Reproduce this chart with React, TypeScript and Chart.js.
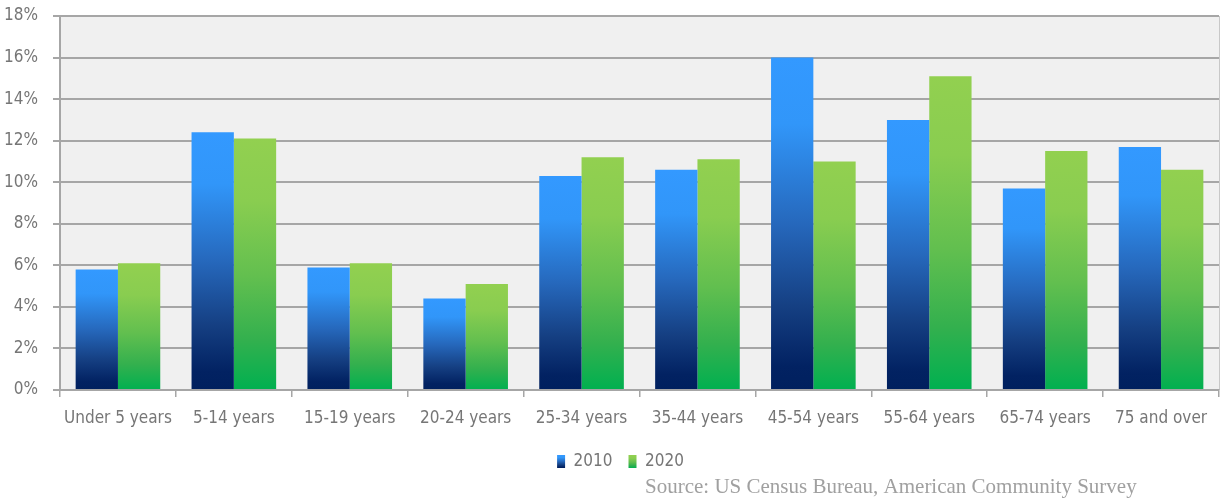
import React, { useEffect, useRef } from "react";
import { Chart, registerables } from "chart.js";

Chart.register(...registerables);

const categories = [
  "Under 5 years",
  "5-14 years",
  "15-19 years",
  "20-24 years",
  "25-34 years",
  "35-44 years",
  "45-54 years",
  "55-64 years",
  "65-74 years",
  "75 and over",
];
const values2010 = [5.8, 12.4, 5.9, 4.4, 10.3, 10.6, 16.0, 13.0, 9.7, 11.7];
const values2020 = [6.1, 12.1, 6.1, 5.1, 11.2, 11.1, 11.0, 15.1, 11.5, 10.6];
const seriesLabels = ["2010", "2020"];
const yTicks = [0, 2, 4, 6, 8, 10, 12, 14, 16, 18];
const sourceText = "Source: US Census Bureau, American Community Survey";

const FONT = "'DejaVu Sans Condensed', 'Liberation Sans Narrow', sans-serif";
const TEXT = "#767676";

const blueStops: [number, string][] = [
  [0, "#3399FF"],
  [0.2, "#3196F9"],
  [0.5, "#2668BC"],
  [0.75, "#153F82"],
  [0.93, "#022262"],
  [1, "#00205E"],
];
const greenStops: [number, string][] = [
  [0, "#92D050"],
  [0.25, "#89CD50"],
  [0.55, "#62BF4F"],
  [0.8, "#33B04E"],
  [1, "#00B050"],
];

function makeGrad(ctx: CanvasRenderingContext2D, top: number, bottom: number, stops: [number, string][]) {
  const g = ctx.createLinearGradient(0, top, 0, bottom);
  for (const [o, c] of stops) g.addColorStop(o, c);
  return g;
}

function barColor(stops: [number, string][]) {
  return (c: any) => {
    const chart = c.chart;
    const y = chart.scales && chart.scales.y;
    if (!y || c.raw === undefined || c.raw === null) return stops[0][1];
    const top = y.getPixelForValue(c.raw);
    const bottom = y.getPixelForValue(0);
    if (!isFinite(top) || !isFinite(bottom) || bottom - top < 1) return stops[0][1];
    return makeGrad(chart.ctx, top, bottom, stops);
  };
}

const bgPlugin = {
  id: "plotBg",
  afterLayout(chart: any) {
    const lg = chart.legend;
    if (lg) {
      lg.left += 11;
      lg.right += 11;
    }
  },
  beforeDraw(chart: any) {
    const { ctx, chartArea } = chart;
    if (!chartArea) return;
    ctx.save();
    ctx.fillStyle = "#F0F0F0";
    ctx.fillRect(chartArea.left, chartArea.top, chartArea.right - chartArea.left, chartArea.bottom - chartArea.top);
    ctx.strokeStyle = "#C8C8C8";
    ctx.lineWidth = 1;
    ctx.beginPath();
    ctx.moveTo(chartArea.right + 0.5, chartArea.top);
    ctx.lineTo(chartArea.right + 0.5, chartArea.bottom);
    ctx.stroke();
    ctx.restore();
  },
  afterDraw(chart: any) {
    const { ctx } = chart;
    ctx.save();
    ctx.fillStyle = "#A0A0A0";
    ctx.font = "21px 'Liberation Serif', 'DejaVu Serif', serif";
    ctx.textAlign = "left";
    ctx.textBaseline = "middle";
    ctx.fillText(sourceText, 645, 487);
    ctx.restore();
  },
};

export default function App() {
  const ref = useRef<HTMLCanvasElement | null>(null);

  useEffect(() => {
    const canvas = ref.current;
    if (!canvas) return;
    const ctx2d = canvas.getContext("2d") as CanvasRenderingContext2D;
    const chart = new Chart(canvas, {
      type: "bar",
      data: {
        labels: categories,
        datasets: [
          {
            label: seriesLabels[0],
            data: values2010,
            backgroundColor: barColor(blueStops) as any,
            borderWidth: 0,
            barPercentage: 1,
            categoryPercentage: 0.73,
          },
          {
            label: seriesLabels[1],
            data: values2020,
            backgroundColor: barColor(greenStops) as any,
            borderWidth: 0,
            barPercentage: 1,
            categoryPercentage: 0.73,
          },
        ],
      },
      options: {
        animation: false,
        responsive: false,
        maintainAspectRatio: false,
        devicePixelRatio: 1,
        layout: { autoPadding: false, padding: { left: 0, right: 6, top: 16, bottom: 18 } },
        plugins: {
          tooltip: { enabled: false },
          legend: {
            position: "bottom",
            labels: {
              color: TEXT,
              font: { family: FONT, size: 17 },
              boxWidth: 8,
              boxHeight: 13,
              padding: 16,
              generateLabels: () => {
                const top = 455;
                const bottom = 468;
                return [
                  { text: seriesLabels[0], fillStyle: makeGrad(ctx2d, top, bottom, blueStops) as any, strokeStyle: "rgba(0,0,0,0)", lineWidth: 0, hidden: false, datasetIndex: 0, fontColor: TEXT },
                  { text: seriesLabels[1], fillStyle: makeGrad(ctx2d, top, bottom, greenStops) as any, strokeStyle: "rgba(0,0,0,0)", lineWidth: 0, hidden: false, datasetIndex: 1, fontColor: TEXT },
                ];
              },
            },
          },
        },
        scales: {
          x: {
            offset: true,
            grid: {
              display: true,
              offset: true,
              drawOnChartArea: false,
              drawTicks: true,
              tickLength: 7,
              color: "#A6A6A6",
              lineWidth: 1.5,
            },
            border: { display: true, color: "#A6A6A6", width: 2 },
            ticks: {
              color: TEXT,
              font: { family: FONT, size: 17 },
              padding: 11,
              maxRotation: 0,
              autoSkip: false,
            },
            afterFit: (s: any) => {
              s.height = 47;
              s.paddingLeft = 0;
              s.paddingRight = 0;
            },
          },
          y: {
            min: 0,
            max: 18,
            afterBuildTicks: (s: any) => {
              s.ticks = yTicks.map((v) => ({ value: v }));
            },
            grid: {
              color: "#A6A6A6",
              lineWidth: 2,
              tickLength: 7,
              drawTicks: true,
            },
            border: { display: true, color: "#A6A6A6", width: 2 },
            ticks: {
              color: TEXT,
              font: { family: FONT, size: 17 },
              padding: 15,
              callback: (v: any) => v + "%",
            },
            afterFit: (s: any) => {
              s.width = 60;
              s.paddingTop = 0;
              s.paddingBottom = 0;
            },
          },
        },
      },
      plugins: [bgPlugin],
    });
    return () => chart.destroy();
  }, []);

  return (
    <div style={{ position: "fixed", left: 0, top: 0, width: 1225, height: 498, background: "#FFFFFF" }}>
      <canvas ref={ref} width={1225} height={498} style={{ display: "block", width: 1225, height: 498 }} />
    </div>
  );
}
